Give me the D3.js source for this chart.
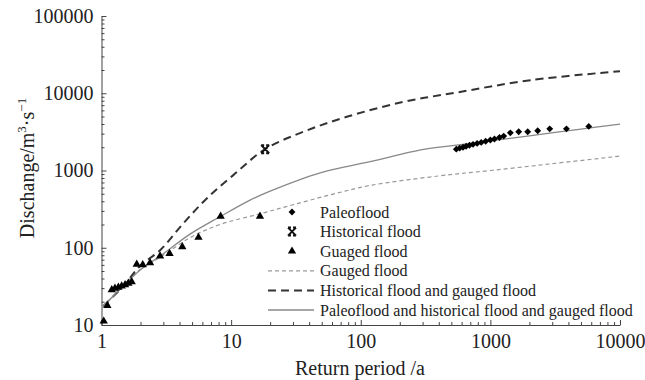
<!DOCTYPE html>
<html>
<head>
<title>Flood frequency</title>
<script src="https://d3js.org/d3.v7.min.js"></script>
<style>
body { margin: 0; background: #fff; }
text { font-family: "Liberation Serif", "Times New Roman", serif; fill: #222; }
</style>
</head>
<body>
<div id="chart"></div>
<script>
// observed floods
var paleoX = [546, 580, 615, 650, 690, 735, 790, 850, 920, 1000, 1075, 1175, 1267, 1426, 1654, 1941, 2318, 2870, 3862, 5741];
var paleoY = [1890, 1950, 2000, 2060, 2120, 2180, 2240, 2310, 2390, 2480, 2560, 2670, 2790, 3075, 3170, 3170, 3265, 3460, 3460, 3720];
var histX = [18.3];
var histY = [1890];
var gaugedX = [1.04, 1.11, 1.2, 1.27, 1.35, 1.43, 1.52, 1.61, 1.71, 1.87, 2.08, 2.37, 2.83, 3.35, 4.2, 5.6, 8.3, 16.7];
var gaugedY = [11.2, 17.8, 28.5, 29.8, 30.8, 32, 33.2, 34.6, 36.3, 61, 60, 64, 78, 84, 103, 136, 255, 255];

// fitted curves
var gaugedCurveX = [1.03, 1.5, 2, 2.83, 4.82, 8.2, 16.7, 30, 60, 118, 400, 1000, 3000, 10000];
var gaugedCurveY = [17.5, 33, 53, 75, 135, 200, 275, 360, 490, 640, 850, 1000, 1225, 1535];
var histCurveX = [1.03, 1.5, 1.98, 2.83, 4.28, 6.49, 10.4, 18.3, 36, 78, 214, 550, 2037, 10000];
var histCurveY = [17.5, 33, 58, 93, 207, 435, 871, 1890, 3170, 4955, 7740, 10230, 14750, 19300];
var allCurveX = [1.03, 1.5, 2, 2.83, 4.82, 8.2, 14, 20, 48.7, 118, 305, 550, 1000, 2000, 5000, 10000];
var allCurveY = [17.5, 33, 52, 78, 150, 252, 414, 541, 933, 1300, 1875, 2130, 2415, 2810, 3436, 3980];

var xTicks = [1, 10, 100, 1000, 10000];
var yTicks = [10, 100, 1000, 10000, 100000];

var legendNames = ["Paleoflood", "Historical flood", "Guaged flood", "Gauged flood",
  "Historical flood and gauged flood", "Paleoflood and historical flood and gauged flood"];

var width = 645, height = 380;
var svg = d3.select("#chart").append("svg")
  .attr("width", width).attr("height", height);

var x = d3.scaleLog().domain([1, 10000]).range([101.5, 620]);
var y = d3.scaleLog().domain([10, 100000]).range([325, 16]);

function minors(lo, hi) {
  var out = [];
  for (var p = lo; p < hi; p *= 10)
    for (var k = 2; k <= 9; k++) out.push(p * k);
  return out;
}

// axes
svg.append("g").attr("transform", "translate(0,325)")
  .call(d3.axisBottom(x).tickValues(minors(1, 10000)).tickSize(-3).tickSizeOuter(0).tickFormat(""))
  .call(function(g) { g.select(".domain").remove(); });
svg.append("g").attr("transform", "translate(101.5,0)")
  .call(d3.axisLeft(y).tickValues(minors(10, 100000)).tickSize(-3).tickSizeOuter(0).tickFormat(""))
  .call(function(g) { g.select(".domain").remove(); });

var xAxis = svg.append("g").attr("transform", "translate(0,325)")
  .call(d3.axisBottom(x).tickValues(xTicks).tickSize(-5).tickSizeOuter(0).tickPadding(9).tickFormat(d3.format("d")));
var yAxis = svg.append("g").attr("transform", "translate(101.5,0)")
  .call(d3.axisLeft(y).tickValues(yTicks).tickSize(-5).tickSizeOuter(0).tickPadding(8).tickFormat(d3.format("d")));

svg.selectAll(".tick line, .domain").attr("stroke", "#444");
[xAxis, yAxis].forEach(function(a) {
  a.selectAll("text").style("font-family", "'Liberation Serif', serif").style("font-size", "20px").attr("fill", "#222");
});

// axis titles
svg.append("text").attr("x", 360).attr("y", 375).attr("text-anchor", "middle")
  .style("font-size", "20px").text("Return period /a");

var yt = svg.append("text").attr("transform", "translate(34,168) rotate(-90)")
  .attr("text-anchor", "middle").style("font-size", "20px");
yt.append("tspan").text("Dischange/m");
yt.append("tspan").attr("dy", -8).style("font-size", "13px").text("3");
yt.append("tspan").attr("dy", 8).text("\u00b7s");
yt.append("tspan").attr("dy", -8).style("font-size", "13px").text("\u22121");

// curves
var line = d3.line()
  .x(function(d) { return x(d[0]); })
  .y(function(d) { return y(d[1]); })
  .curve(d3.curveCatmullRom.alpha(0.5));

var curves = [
  { xs: gaugedCurveX, ys: gaugedCurveY, stroke: "#999", width: 1.2, dash: "4,3" },
  { xs: histCurveX, ys: histCurveY, stroke: "#333", width: 2, dash: "8,5" },
  { xs: allCurveX, ys: allCurveY, stroke: "#888", width: 1.3, dash: null }
];
curves.forEach(function(c) {
  svg.append("path")
    .datum(c.xs.map(function(v, i) { return [v, c.ys[i]]; }))
    .attr("d", line)
    .attr("fill", "none")
    .attr("stroke", c.stroke)
    .attr("stroke-width", c.width)
    .attr("stroke-dasharray", c.dash);
});

// points
var diamond = d3.symbol().type(d3.symbolDiamond2).size(30);
var tri = d3.symbol().type(d3.symbolTriangle).size(30);
var xMark = "M-4,-4L4,4M4,-4L-4,4M-4,-4L-1,-4M1,-4L4,-4M-4,4L-1,4M1,4L4,4";

svg.selectAll(".paleo").data(paleoX).enter().append("path")
  .attr("d", diamond)
  .attr("transform", function(d, i) { return "translate(" + x(d) + "," + y(paleoY[i]) + ")"; })
  .attr("fill", "#000");

svg.selectAll(".gauged").data(gaugedX).enter().append("path")
  .attr("d", tri)
  .attr("transform", function(d, i) { return "translate(" + x(d) + "," + y(gaugedY[i]) + ")"; })
  .attr("fill", "#000");

svg.selectAll(".hist").data(histX).enter().append("path")
  .attr("d", xMark)
  .attr("transform", function(d, i) { return "translate(" + x(d) + "," + y(histY[i]) + ")"; })
  .attr("fill", "none").attr("stroke", "#111").attr("stroke-width", 2);

// legend
var lg = svg.append("g").attr("transform", "translate(0,212)");
legendNames.forEach(function(name, i) {
  var cy = i * 19.6;
  var row = lg.append("g").attr("transform", "translate(0," + cy + ")");
  if (i === 0) row.append("path").attr("d", diamond).attr("transform", "translate(292,0)").attr("fill", "#000");
  if (i === 1) row.append("path").attr("d", xMark).attr("transform", "translate(292,0)")
    .attr("fill", "none").attr("stroke", "#111").attr("stroke-width", 2);
  if (i === 2) row.append("path").attr("d", tri).attr("transform", "translate(292,0)").attr("fill", "#000");
  if (i >= 3) {
    var c = curves[i - 3];
    row.append("line").attr("x1", 268).attr("x2", 314).attr("y1", 0).attr("y2", 0)
      .attr("stroke", c.stroke).attr("stroke-width", c.width).attr("stroke-dasharray", c.dash);
  }
  row.append("text").attr("x", 320).attr("y", 5.5).style("font-size", "16px").text(name);
});
</script>
</body>
</html>
